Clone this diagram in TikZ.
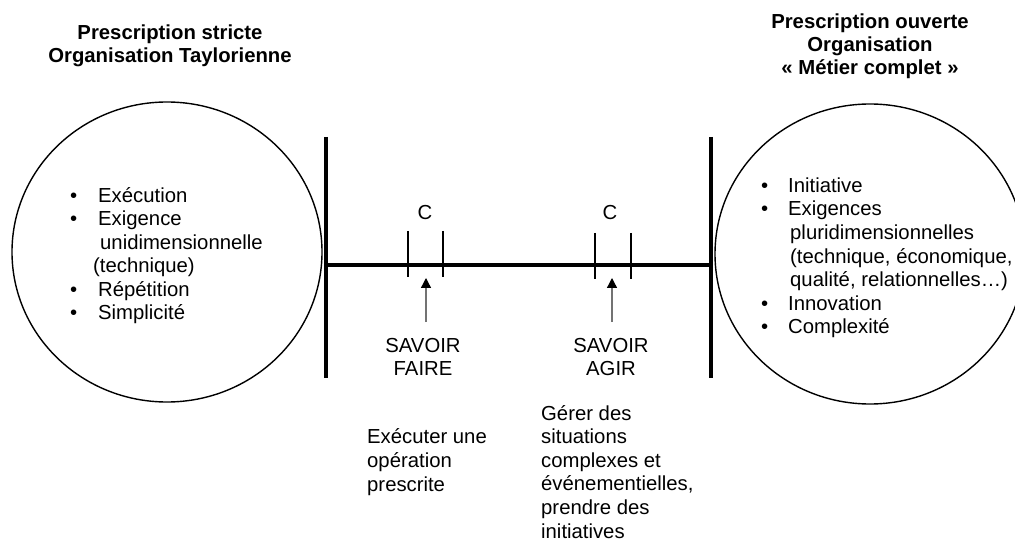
\documentclass[tikz,border=0pt]{standalone}
\usepackage{fontspec}
\setmainfont{Liberation Sans}
\usetikzlibrary{arrows.meta}
\tikzset{
  txt/.style={font=\fontsize{20.3}{23.6}\selectfont, inner sep=0pt, align=left},
  head/.style={txt, font=\fontsize{20.3}{23}\selectfont\bfseries, align=center},
  ring/.style={line width=1.4pt},
  bar/.style={line width=4.5pt},
  axis/.style={line width=4.5pt},
  tickmark/.style={line width=2.4pt},
  pointer/.style={draw=black!55, line width=1.3pt,
    -{Triangle[width=10pt,length=10pt,color=black]}},
}
\newcommand{\bul}[1]{\makebox[#1][l]{\textbullet}}

\begin{document}
\begin{tikzpicture}[x=1pt,y=-1pt]
  \clip (0,0) rectangle (1015,545);
  % the two organisations
  \draw[ring] (167,252) ellipse (155 and 150);
  \draw[ring] (870,254) ellipse (155 and 150);
  % (base anchor = last line)
  \node[head, anchor=base] (taylor) at (170,63)
    {Prescription stricte\\Organisation Taylorienne};
  \node[head, anchor=base] (metier) at (870,75)
    {Prescription ouverte\\Organisation\\« Métier complet »};
  \node[txt, anchor=base west] (lstleft) at (70,320)
    {\bul{28pt}Exécution\\
     \bul{28pt}Exigence\\
     \hspace*{30pt}unidimensionnelle\\
     \hspace*{23pt}(technique)\\
     \bul{28pt}Répétition\\
     \bul{28pt}Simplicité};
  \node[txt, anchor=base west] (lstright) at (761,334)
    {\bul{27pt}Initiative\\
     \bul{27pt}Exigences\\
     \hspace*{29pt}pluridimensionnelles\\
     \hspace*{29pt}(technique, économique,\\
     \hspace*{29pt}qualité, relationnelles…)\\
     \bul{27pt}Innovation\\
     \bul{27pt}Complexité};
  % the scale between them
  \draw[bar] (326,137) -- (326,378);
  \draw[bar] (711,137) -- (711,378);
  \coordinate (lb) at (328,265);
  \coordinate (rb) at (711,265);
  \draw[axis] (lb) -- (rb);
  \foreach \x/\t in {408/231, 443/231, 595/233, 631/233}
    \draw[tickmark] (\x,\t) -- ++(0,46);
  \node[txt, anchor=base] (c1) at (425,220) {C};
  \node[txt, anchor=base] (c2) at (610,220) {C};
  % savoirs
  \node[txt, align=center, anchor=base] (sf) at (423,376) {SAVOIR\\FAIRE};
  \node[txt, align=center, anchor=base] (sa) at (611,376) {SAVOIR\\AGIR};
  \coordinate (p1) at (426,278);
  \coordinate (p2) at (612,278);
  \draw[pointer] ([yshift=16pt]sf.north -| p1) -- (p1);
  \draw[pointer] ([yshift=16pt]sa.north -| p2) -- (p2);
  \node[txt, anchor=base west] (dfaire) at (367,491)
    {Exécuter une\\opération\\prescrite};
  \node[txt, anchor=base west] (dagir) at (541,538)
    {Gérer des\\situations\\complexes et\\événementielles,\\prendre des\\initiatives};
\end{tikzpicture}
\end{document}
